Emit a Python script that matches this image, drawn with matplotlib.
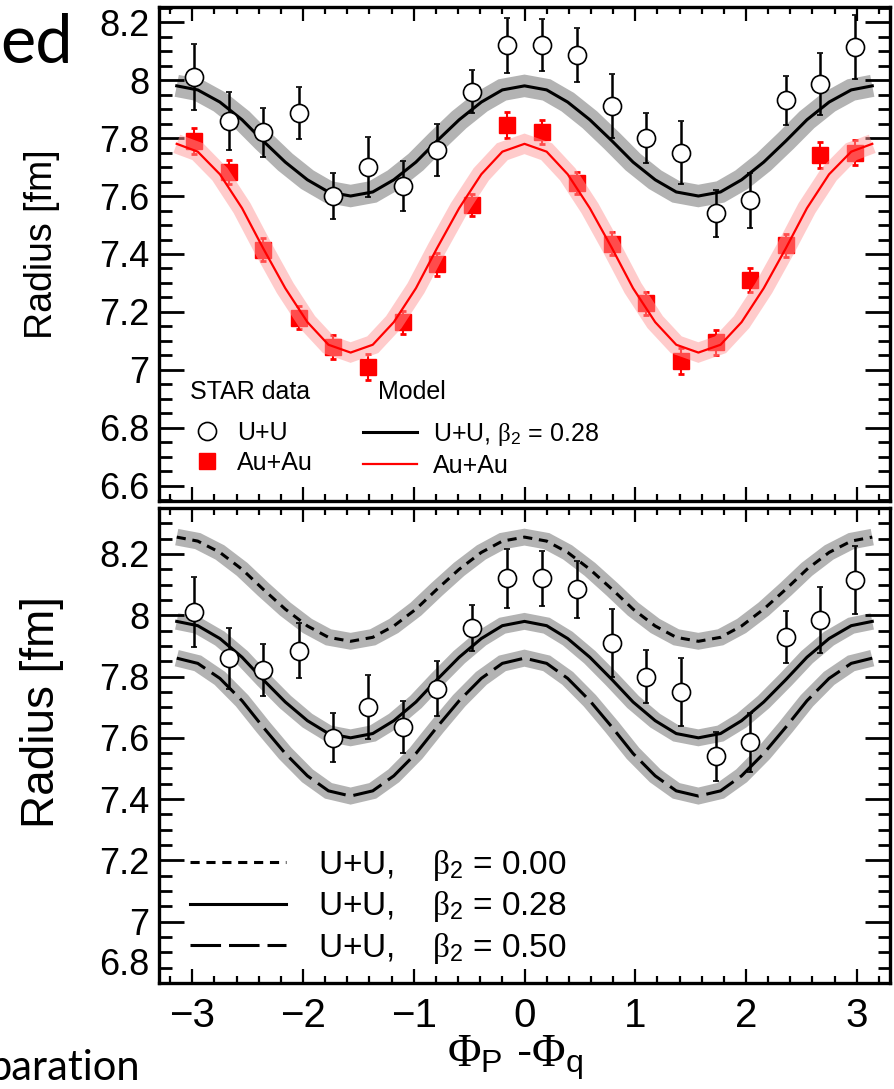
import numpy as np
import matplotlib
matplotlib.use('Agg')
import matplotlib.pyplot as plt
from matplotlib.ticker import MultipleLocator, FormatStrFormatter
from matplotlib.lines import Line2D

plt.rcParams['font.family'] = ['Liberation Sans', 'DejaVu Sans']
plt.rcParams['mathtext.fontset'] = 'custom'
plt.rcParams['mathtext.rm'] = 'Liberation Serif'
plt.rcParams['mathtext.it'] = 'Liberation Serif:italic'
plt.rcParams['mathtext.bf'] = 'Liberation Serif:bold'
plt.rcParams['mathtext.sf'] = 'Liberation Sans'

# STAR data points (bin centres in Phi_P - Phi_q)
phi = [-2.98, -2.67, -2.36, -2.04, -1.73, -1.41, -1.10, -0.79, -0.47, -0.16,
       0.16, 0.47, 0.79, 1.10, 1.41, 1.73, 2.04, 2.36, 2.67, 2.98]
uu_r = [8.01, 7.86, 7.82, 7.885, 7.60, 7.70, 7.635, 7.76, 7.96, 8.12,
        8.12, 8.085, 7.91, 7.80, 7.75, 7.54, 7.585, 7.93, 7.985, 8.115]
uu_err = [0.115, 0.10, 0.085, 0.09, 0.08, 0.105, 0.085, 0.09, 0.075, 0.095,
          0.09, 0.093, 0.11, 0.087, 0.11, 0.08, 0.095, 0.085, 0.107, 0.11]
au_r = [7.79, 7.683, 7.415, 7.18, 7.08, 7.01, 7.165, 7.365, 7.57, 7.845,
        7.82, 7.645, 7.435, 7.23, 7.03, 7.095, 7.31, 7.43, 7.74, 7.75]
au_err = [0.045, 0.04, 0.04, 0.04, 0.042, 0.045, 0.04, 0.04, 0.038, 0.045,
          0.042, 0.038, 0.04, 0.04, 0.045, 0.042, 0.042, 0.04, 0.045, 0.042]

# model curves
phi_m = [-3.14, -2.95, -2.75, -2.55, -2.36, -2.16, -1.96, -1.77, -1.57,
         -1.37, -1.18, -0.98, -0.79, -0.59, -0.39, -0.20, 0.0,
         0.20, 0.39, 0.59, 0.79, 0.98, 1.18, 1.37, 1.57,
         1.77, 1.96, 2.16, 2.36, 2.55, 2.75, 2.95, 3.14]
uu028 = [7.98, 7.966, 7.924, 7.863, 7.79, 7.717, 7.656, 7.614, 7.60,
         7.614, 7.656, 7.717, 7.79, 7.863, 7.924, 7.966, 7.98,
         7.966, 7.924, 7.863, 7.79, 7.717, 7.656, 7.614, 7.60,
         7.614, 7.656, 7.717, 7.79, 7.863, 7.924, 7.966, 7.98]
auau_m = [7.78, 7.753, 7.675, 7.558, 7.42, 7.282, 7.165, 7.087, 7.06,
          7.087, 7.165, 7.282, 7.42, 7.558, 7.675, 7.753, 7.78,
          7.753, 7.675, 7.558, 7.42, 7.282, 7.165, 7.087, 7.06,
          7.087, 7.165, 7.282, 7.42, 7.558, 7.675, 7.753, 7.78]
uu000 = [8.255, 8.242, 8.205, 8.150, 8.085, 8.020, 7.965, 7.928, 7.915,
         7.928, 7.965, 8.020, 8.085, 8.150, 8.205, 8.242, 8.255,
         8.242, 8.205, 8.150, 8.085, 8.020, 7.965, 7.928, 7.915,
         7.928, 7.965, 8.020, 8.085, 8.150, 8.205, 8.242, 8.255]
uu050 = [7.86, 7.843, 7.794, 7.721, 7.635, 7.549, 7.476, 7.427, 7.41,
         7.427, 7.476, 7.549, 7.635, 7.721, 7.794, 7.843, 7.86,
         7.843, 7.794, 7.721, 7.635, 7.549, 7.476, 7.427, 7.41,
         7.427, 7.476, 7.549, 7.635, 7.721, 7.794, 7.843, 7.86]

band_gray = '#b3b3b3'
band_pink = (1.0, 0.6, 0.6)
narrow = {'family': ['Liberation Sans Narrow', 'Liberation Sans'], 'size': 18}

fig = plt.figure(figsize=(8.95, 10.89), dpi=100)
W, H = 895.0, 1089.0
ax1 = fig.add_axes([159/W, 1 - 501/H, 731/W, 494/H])
ax2 = fig.add_axes([159/W, 1 - 983/H, 731/W, 475/H])


def style(ax, ymin, ymax, xlabels):
    ax.set_xlim(-3.3, 3.3)
    ax.set_ylim(ymin, ymax)
    ax.xaxis.set_major_locator(MultipleLocator(1))
    ax.xaxis.set_minor_locator(MultipleLocator(0.2))
    ax.yaxis.set_major_locator(MultipleLocator(0.2))
    ax.yaxis.set_minor_locator(MultipleLocator(0.05))
    ax.yaxis.set_major_formatter(FormatStrFormatter('%g'))
    ax.tick_params(axis='y', which='major', direction='in', length=18, width=2,
                   left=True, right=True, labelsize=26, pad=7)
    ax.tick_params(axis='y', which='minor', direction='in', length=9, width=2,
                   left=True, right=True)
    ax.tick_params(axis='x', which='major', direction='in', length=10, width=1.6,
                   bottom=True, top=True, labelsize=29, pad=10,
                   labelbottom=xlabels)
    ax.tick_params(axis='x', which='minor', direction='in', length=5, width=1.6,
                   bottom=True, top=True)
    for s in ax.spines.values():
        s.set_linewidth(2.4)


# ---------- top panel ----------
ax1.plot(phi_m, uu028, color=band_gray, lw=16, solid_joinstyle='miter',
         solid_capstyle='butt', zorder=1)
ax1.plot(phi_m, uu028, color='black', lw=2.2, zorder=2)
ax1.errorbar(phi, au_r, yerr=au_err, fmt='s', ms=12, color='red', mec='red',
             ecolor='red', elinewidth=1.5, capsize=2, capthick=2, zorder=3)
ax1.plot(phi_m, auau_m, color=band_pink, alpha=0.5, lw=14, solid_joinstyle='miter',
         solid_capstyle='butt', zorder=4)
ax1.plot(phi_m, auau_m, color='red', lw=1.6, zorder=5)
ax1.errorbar(phi, uu_r, yerr=uu_err, fmt='o', ms=13, mfc='white', mec='black',
             mew=1.2, ecolor='black', elinewidth=1.8, capsize=2.2, capthick=2,
             zorder=6)
style(ax1, 6.548, 8.252, False)
ax1.set_ylabel('Radius [fm]', fontsize=27)
ax1.yaxis.set_label_coords(-0.135, 0.52)

ax1.text(0.042, 0.221, 'STAR data', transform=ax1.transAxes, va='center',
         fontdict=narrow)
ax1.text(0.30, 0.221, 'Model', transform=ax1.transAxes, va='center',
         fontdict=narrow)
h_data = [Line2D([], [], ls='none', marker='o', ms=13, mfc='white', mec='black', mew=1.2),
          Line2D([], [], ls='none', marker='s', ms=12, color='red')]
leg1 = ax1.legend(h_data, ['U+U', 'Au+Au'], loc='upper left',
                  bbox_to_anchor=(0.0465, 0.162), frameon=False, prop=narrow,
                  handlelength=1.12, handletextpad=0.64, labelspacing=0.25,
                  borderaxespad=0, borderpad=0)
ax1.add_artist(leg1)
h_model = [Line2D([], [], color='black', lw=2.2), Line2D([], [], color='red', lw=1.6)]
leg2 = ax1.legend(h_model, [r'U+U, $\mathrm{\beta}_{\mathsf{2}}$ = 0.28', 'Au+Au'],
                  loc='upper left', bbox_to_anchor=(0.279, 0.162),
                  frameon=False, prop=narrow, handlelength=2.16,
                  handletextpad=0.64, labelspacing=0.25, borderaxespad=0,
                  borderpad=0)

# ---------- bottom panel ----------
styles = [(uu000, (0, (3, 2.2))), (uu028, '-'), (uu050, (0, (10, 2.6)))]
for curve, ls in styles:
    ax2.plot(phi_m, curve, color=band_gray, lw=12, solid_joinstyle='miter',
             solid_capstyle='butt', zorder=1)
for curve, ls in styles:
    ax2.plot(phi_m, curve, color='black', lw=2.2, ls=ls, zorder=2)
ax2.errorbar(phi, uu_r, yerr=uu_err, fmt='o', ms=13, mfc='white', mec='black',
             mew=1.2, ecolor='black', elinewidth=1.8, capsize=2.2, capthick=2,
             zorder=6)
style(ax2, 6.8, 8.35, True)
ax2.set_ylabel('Radius [fm]', fontsize=33)
ax2.yaxis.set_label_coords(-0.13, 0.57)
fig.canvas.draw()
for t in ax2.get_yticklabels():
    if t.get_text() == '6.8':
        t.set_verticalalignment('bottom')

h_b = [Line2D([], [], color='black', lw=2.2, ls=(0, (3, 2.2))),
       Line2D([], [], color='black', lw=2.2),
       Line2D([], [], color='black', lw=2.2, ls=(0, (10, 2.6)))]
ax2.legend(h_b, [r'U+U,    $\mathrm{\beta}_{\mathsf{2}}$ = 0.00',
                 r'U+U,    $\mathrm{\beta}_{\mathsf{2}}$ = 0.28',
                 r'U+U,    $\mathrm{\beta}_{\mathsf{2}}$ = 0.50'],
           loc='upper left', bbox_to_anchor=(0.042, 0.285), frameon=False,
           fontsize=24, handlelength=2.9, handletextpad=0.95, labelspacing=0.2,
           borderaxespad=0, borderpad=0)

fig.text(447/W, 1 - 1058/H, r'$\mathrm{\Phi}_{\mathsf{P}}$ -$\mathrm{\Phi}_{\mathsf{q}}$',
         fontsize=33, ha='left', va='center')

# cropped slide text around the figure
fig.text(0.0, 1 - 63/H, 'ed', fontsize=48, family='Lato', va='baseline')
fig.text(-12/W, 1 - 1080/H, 'paration', fontsize=30, family='Lato', va='baseline')

fig.savefig('out.png', dpi=100)
